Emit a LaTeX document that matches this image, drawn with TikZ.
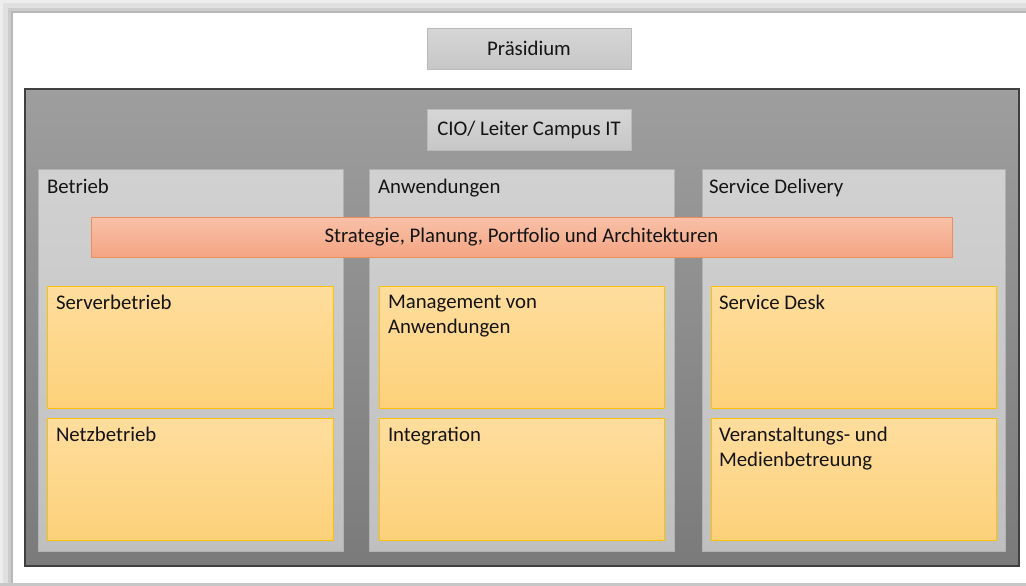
\documentclass[tikz,border=0pt]{standalone}
\usepackage{fontspec}
\setmainfont{Carlito}
\usetikzlibrary{fit}
\definecolor{txt}{HTML}{141414}
\tikzset{
  base/.style={inner sep=0pt, outer sep=0pt},
  mainbox/.style={base, top color=black!38, bottom color=black!52, draw=black!75, line width=1.1pt},
  topbox/.style={base, top color=black!16, bottom color=black!22, draw=black!27, line width=0.6pt},
  panel/.style={base, top color=black!18, bottom color=black!25, draw=black!30, line width=0.6pt},
  strat/.style={base, top color={rgb,255:red,248;green,193;blue,168}, bottom color={rgb,255:red,244;green,164;blue,131}, draw={rgb,255:red,237;green,140;blue,95}, line width=0.6pt},
  unit/.style={base, top color={rgb,255:red,254;green,221;blue,157}, bottom color={rgb,255:red,253;green,209;blue,122}, draw={rgb,255:red,255;green,192;blue,0}, line width=0.6pt},
  lbl/.style={inner sep=0pt, outer sep=0pt, text=txt, font=\fontsize{15.6}{18.2}\selectfont, align=left, anchor=base west},
  ctr/.style={inner sep=0pt, text=txt, font=\fontsize{15.6}{18.2}\selectfont},
}
\begin{document}
\begin{tikzpicture}[x=0.75pt,y=-0.75pt]
\useasboundingbox (0,0) rectangle (1026,586);
\begin{scope}
\clip (0,0) rectangle (1026,586);
% shadow frame
\fill[black!7] (0,0) rectangle (1030,590);
\fill[black!12] (3,3) rectangle (1030,590);
\fill[black!20] (8,8) rectangle (1030,590);
\fill[black!28] (11,11) rectangle (1030,590);
\fill[black!22] (0,583) rectangle (1030,590);
\fill[white] (13,13) rectangle (1026,583);
\end{scope}
% main box
\node[mainbox, fit={(25,89)(1019,566)}] (main) {};
% top boxes
\node[topbox, fit={(427,28)(631,69)}] (pres) {};
\node[ctr] at (pres.center) {Präsidium};
\node[topbox, fit={(427,109)(631,150)}] (cio) {};
\node[ctr] at (cio.center) {CIO/ Leiter Campus IT};
% panels
\node[panel, fit={(38,169)(343,551)}] (p1) {};
\node[panel, fit={(369,169)(674,551)}] (p2) {};
\node[panel, fit={(702,169)(1005,551)}] (p3) {};
\node[lbl] (l1) at (47,193) {Betrieb};
\node[lbl] (l2) at (378,193) {Anwendungen};
\node[lbl] (l3) at (709,193) {Service Delivery};
% strategy bar
\node[strat, fit={(91,217)(952,257)}] (st) {};
\node[ctr] at (st.center) {Strategie, Planung, Portfolio und Architekturen};
% units
\node[unit, fit={(47,286)(333,408)}] (u11) {};
\node[unit, fit={(47,418)(333,540)}] (u12) {};
\node[unit, fit={(379,286)(664,408)}] (u21) {};
\node[unit, fit={(379,418)(664,540)}] (u22) {};
\node[unit, fit={(711,286)(996,408)}] (u31) {};
\node[unit, fit={(711,418)(996,540)}] (u32) {};
\node[lbl] (t11) at (56,309) {Serverbetrieb};
\node[lbl] (t12) at (56,441) {Netzbetrieb};
\node[lbl] (t21) at (388,333) {Management von\\Anwendungen};
\node[lbl] (t22) at (388,441) {Integration};
\node[lbl] (t31) at (719,309) {Service Desk};
\node[lbl] (t32) at (719,466) {Veranstaltungs- und\\Medienbetreuung};
\end{tikzpicture}
\end{document}
